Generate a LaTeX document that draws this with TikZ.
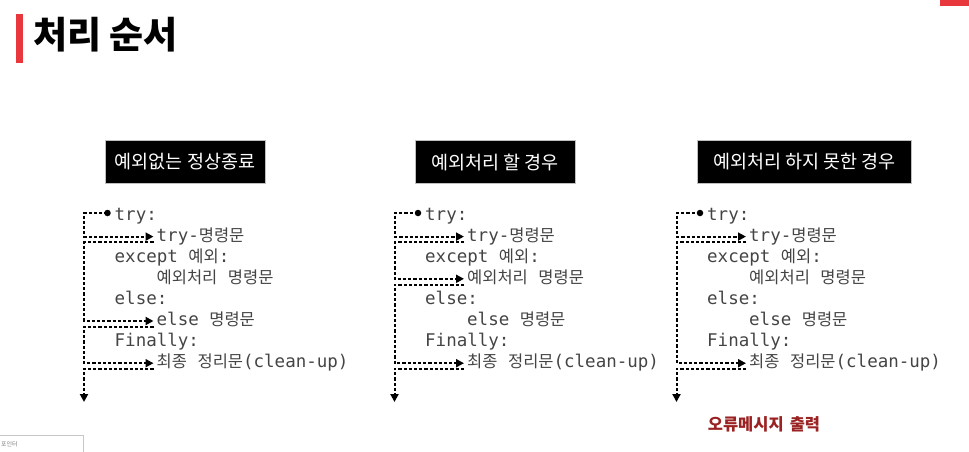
\documentclass[tikz,border=0pt]{standalone}
\usepackage{fontspec}
\usetikzlibrary{arrows.meta,calc}
\newfontfamily\krfont{Noto Sans CJK KR}
\newfontfamily\monofont{DejaVu Sans Mono}
\newcommand\hg[1]{{\krfont\fontsize{16.5pt}{16.5pt}\selectfont #1}}
\definecolor{codegray}{HTML}{444444}
\definecolor{titlered}{HTML}{E8383D}
\definecolor{errred}{HTML}{9B2222}
\newcommand\codecol[2]{%
  \node[code] (#1l0) at (#2,220) {try:};
  \node[code] (#1l1) at (#2+42,241.1) {try-\hg{명령문}};
  \node[code] (#1l2) at (#2,262.2) {except \hg{예외}:};
  \node[code] (#1l3) at (#2+42,283.3) {\hg{예외처리} \hg{명령문}};
  \node[code] (#1l4) at (#2,304.4) {else:};
  \node[code] (#1l5) at (#2+42,325.5) {else \hg{명령문}};
  \node[code] (#1l6) at (#2,346.6) {Finally:};
  \node[code] (#1l7) at (#2+42,367.7) {\hg{최종} \hg{정리문}(clean-up)};
  \node[dotn] (#1dot) at (#2-7,213) {};
  \coordinate (#1v) at (#2-30.5,213);
  \coordinate (#1end) at (#2-30.5,402);
  \foreach \k in {1,3,5,7}{
    \coordinate (#1in\k) at ($(#1l\k.base west)+(-3,-4.5)$);
    \coordinate (#1out\k) at ($(#1l\k.base west)+(-3,1.2)$);
  }
  \draw[arr] (#1dot.center) -- (#1v) |- (#1in1);
  \draw[arr] (#1out7) -| (#1end);
}
\begin{document}
\begin{tikzpicture}[x=1pt,y=-1pt,
  code/.style={anchor=base west, inner sep=0pt, text=codegray, font=\monofont\fontsize{17.5pt}{17.5pt}\selectfont},
  hdr/.style={fill=black, draw=gray!50, line width=0.6pt, text=white, font=\krfont\fontsize{18.5pt}{18.5pt}\selectfont, minimum height=43.5pt, inner sep=0pt},
  flow/.style={draw=black, line width=2pt, dash pattern=on 3.2pt off 2pt},
  arr/.style={flow, -{Triangle[length=8pt,width=8pt]}},
  dotn/.style={circle, fill=black, inner sep=0pt, minimum size=6.5pt}
]
\useasboundingbox (0,0) rectangle (969,451);
% title
\fill[titlered] (16,14) rectangle (22.5,63);
\node[anchor=west, inner sep=0pt, font=\krfont\bfseries\fontsize{37pt}{37pt}\selectfont] (title) at (33,35) {처리 순서};
\fill[titlered] (940,0) rectangle (969,6);
% headers
\node[hdr, minimum width=160pt] (h1) at (185,162) {예외없는 정상종료};
\node[hdr, minimum width=160pt] (h2) at (495,162) {예외처리 할 경우};
\node[hdr, minimum width=214.5pt] (h3) at (804.5,162) {예외처리 하지 못한 경우};
% columns
\codecol{a}{114.5}
\codecol{b}{425}
\codecol{c}{707}
% column 1: no exception
\draw[arr] (aout1) -- (aout1 -| av) |- (ain5);
\draw[arr] (aout5) -- (aout5 -| av) |- (ain7);
% column 2: exception handled
\draw[arr] (bout1) -- (bout1 -| bv) |- (bin3);
\draw[arr] (bout3) -- (bout3 -| bv) |- (bin7);
% column 3: exception not handled
\draw[arr] (cout1) -- (cout1 -| cv) |- (cin7);
\node[inner sep=0pt, text=errred, font=\krfont\bfseries\fontsize{16.5pt}{16.5pt}\selectfont] (err) at (764,424) {오류메시지\hspace{6pt}출력};
% bottom-left fragment
\draw[gray!45, line width=0.6pt] (-2,435.5) rectangle (83.5,455);
\node[anchor=west, inner sep=0pt, text=gray, font=\krfont\fontsize{6pt}{6pt}\selectfont] (ptr) at (1,444) {포인터};
\end{tikzpicture}
\end{document}
